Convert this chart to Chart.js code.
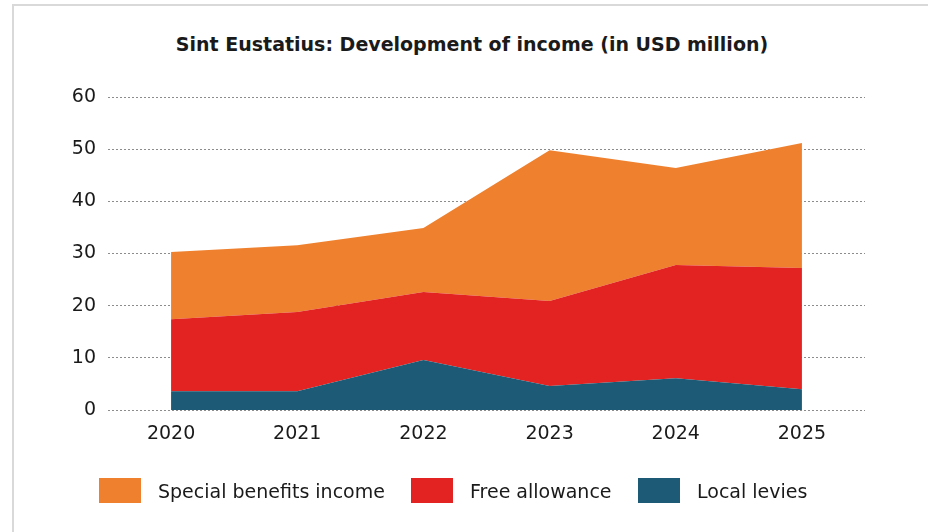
<!DOCTYPE html>
<html>
<head>
<meta charset="utf-8">
<script src="https://cdn.jsdelivr.net/npm/chart.js@4.4.1/dist/chart.umd.min.js"></script>
<style>
  html, body { margin: 0; padding: 0; background: #fff; }
  #wrap { position: relative; width: 928px; height: 532px; overflow: hidden; }
  #frame { position: absolute; left: 12px; top: 4px; right: -10px; bottom: -10px;
           border-left: 2px solid #d9d9d9; border-top: 2px solid #d9d9d9; }
  #title { position: absolute; left: 0; width: 944px; top: 33px; text-align: center;
           font: bold 19px "DejaVu Sans", sans-serif; color: #1a1a1a; }
  canvas { position: absolute; left: 0; top: 0; }
  .leg { position: absolute; top: 478px; height: 25px; display: flex; align-items: center;
         font: 19px "DejaVu Sans", sans-serif; color: #1a1a1a; white-space: nowrap; }
  .leg i { display: inline-block; width: 42px; height: 25px; margin-right: 17px; }
</style>
</head>
<body>
<div id="wrap">
  <div id="frame"></div>
  <div id="title">Sint Eustatius: Development of income (in USD million)</div>
  <canvas id="chart" width="928" height="532"></canvas>
  <div id="legend"></div>
</div>
<script>
// ── Data ─────────────────────────────────────────────────────────────────────
const years = ["2020", "2021", "2022", "2023", "2024", "2025"];
const localLevies = [3.6, 3.6, 9.6, 4.6, 6.1, 4.0];
const freeAllowance = [13.8, 15.2, 13.0, 16.3, 21.7, 23.2];
const specialBenefits = [12.9, 12.8, 12.3, 28.9, 18.6, 24.0];
const yTicks = [0, 10, 20, 30, 40, 50, 60];

const COLORS = { levies: "#1d5a75", free: "#e32322", special: "#ef812e" };
const LEGEND_X = [99, 411, 638]; // left edge of each legend box

function area(label, data, color, fill) {
  return {
    label, data, fill,
    backgroundColor: color,
    borderColor: color,
    borderWidth: 0,
    pointRadius: 0,
    tension: 0,
  };
}

const chart = new Chart(document.getElementById("chart"), {
  type: "line",
  data: {
    labels: years,
    datasets: [
      area("Local levies", localLevies, COLORS.levies, "origin"),
      area("Free allowance", freeAllowance, COLORS.free, "-1"),
      area("Special benefits income", specialBenefits, COLORS.special, "-1"),
    ]
  },
  options: {
    responsive: false,
    animation: false,
    layout: { padding: { left: 35, right: 63, top: 97, bottom: 70 } },
    plugins: {
      title: { display: false },
      tooltip: { enabled: false },
      legend: { display: false }
    },
    scales: {
      x: {
        offset: true,
        grid: { display: false },
        border: { display: false },
        ticks: { color: "#1a1a1a", padding: 5, font: { family: "'DejaVu Sans', sans-serif", size: 19 } },
        afterFit: s => { s.height = 52; }
      },
      y: {
        stacked: true,
        min: 0, max: 60,
        afterBuildTicks: s => { s.ticks = yTicks.map(v => ({ value: v })); },
        grid: { color: "#8c8c8c", lineWidth: 1, drawTicks: false },
        border: { display: false, dash: [2, 2] },
        ticks: { color: "#1a1a1a", padding: 12, font: { family: "'DejaVu Sans', sans-serif", size: 19 } },
        afterFit: s => { s.width = 73; }
      }
    }
  }
});

// ── Legend (top series first) ────────────────────────────────────────────────
const legend = document.getElementById("legend");
chart.data.datasets.slice().reverse().forEach((ds, i) => {
  const el = document.createElement("div");
  el.className = "leg";
  el.style.left = LEGEND_X[i] + "px";
  el.innerHTML = `<i style="background:${ds.backgroundColor}"></i>${ds.label}`;
  legend.appendChild(el);
});
</script>
</body>
</html>
